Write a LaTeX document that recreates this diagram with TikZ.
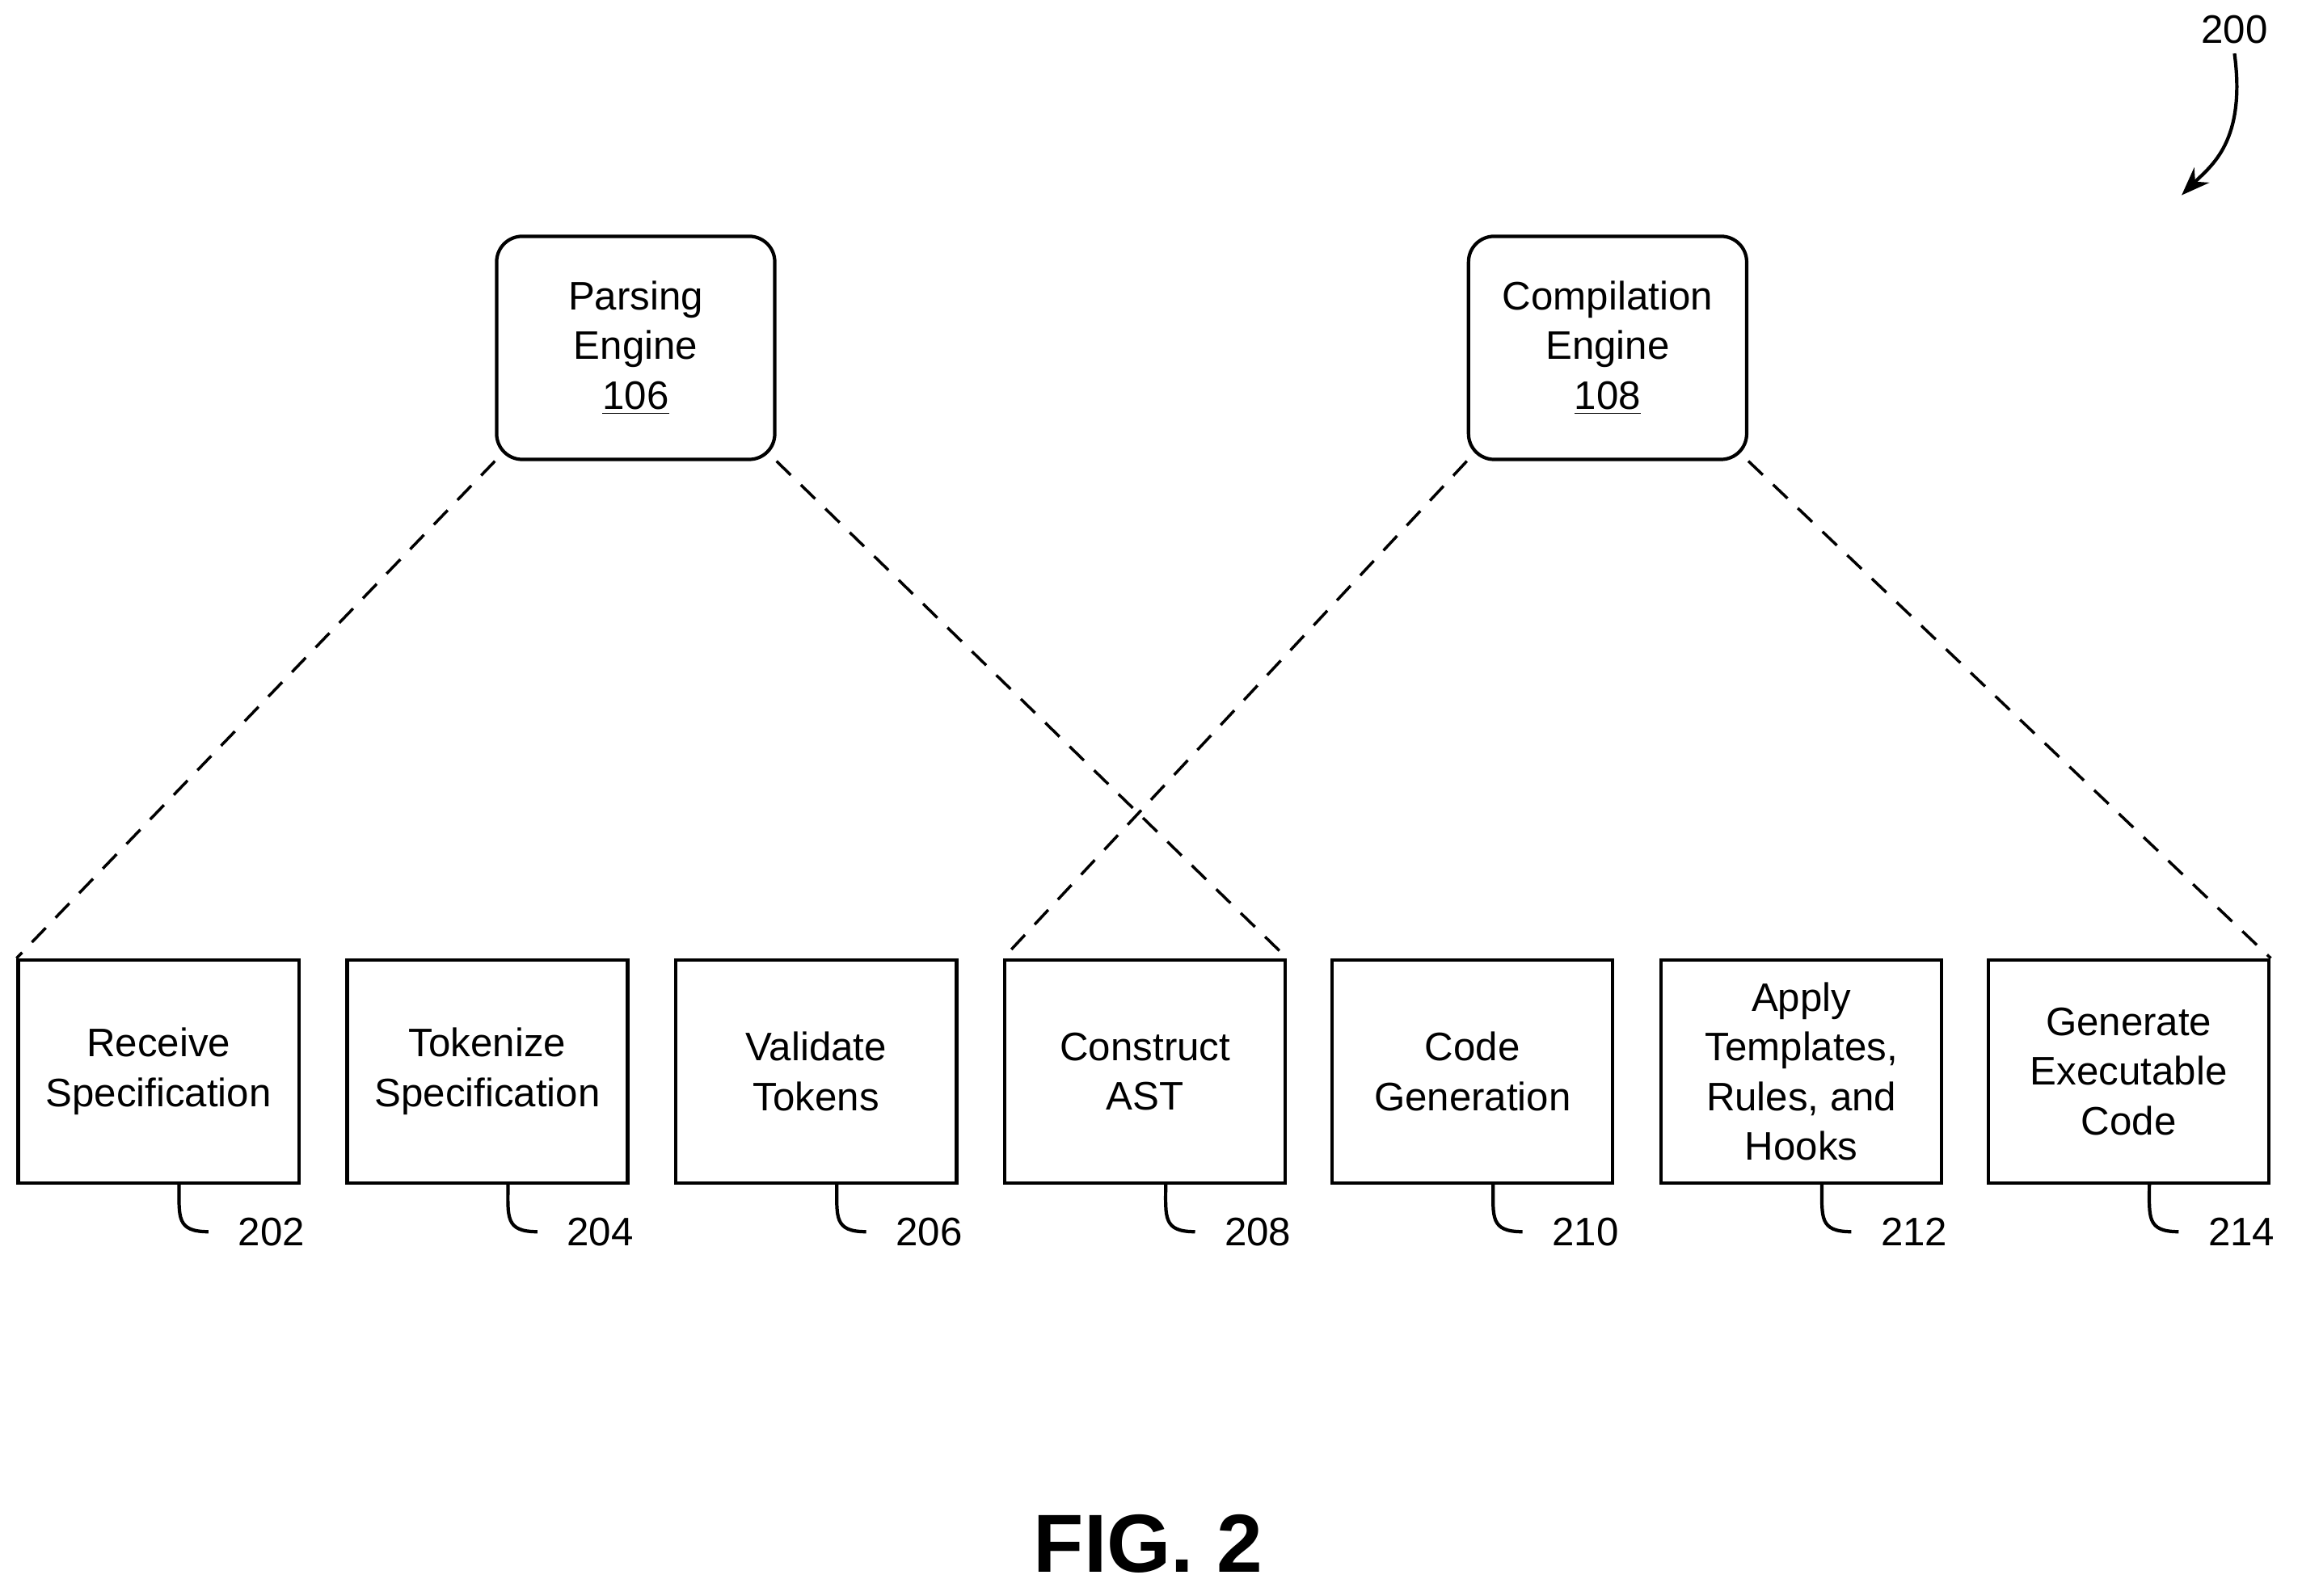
\documentclass[tikz,border=0pt]{standalone}
\usepackage{fontspec}
\setmainfont{Liberation Sans}
\usetikzlibrary{arrows.meta,calc}

\tikzset{
  engine/.style={draw, line width=1.2pt, rounded corners=9pt, minimum width=3.44cm, minimum height=2.76cm, align=center, font=\fontsize{14}{17.5}\selectfont},
  stepbox/.style={draw, line width=1.2pt, minimum width=3.47cm, minimum height=2.76cm, align=center, font=\fontsize{14}{17.5}\selectfont},
  link/.style={line width=1pt, dash pattern=on 7pt off 5pt},
  refnum/.style={anchor=west, inner sep=0pt, xshift=0.36cm, font=\fontsize{14}{17}\selectfont}
}

\begin{document}
\begin{tikzpicture}[x=0.01816cm, y=-0.01816cm]
\useasboundingbox (0,0) rectangle (1568,1087);
% engines
\node[engine] (parse) at (433,237) {Parsing\\Engine\\\underline{106}};
\node[engine] (comp) at (1095,237) {Compilation\\Engine\\\underline{108}};
% steps
\foreach \x/\name/\txt/\num in {108/recv/{Receive\\Specification}/202, 332/tok/{Tokenize\\Specification}/204, 556/val/{Validate\\Tokens}/206, 780/ast/{Construct\\AST}/208, 1003/gen/{Code\\Generation}/210, 1227/tmpl/{Apply\\Templates,\\Rules, and\\Hooks}/212, 1450/exec/{Generate\\Executable\\Code}/214}{
  \node[stepbox] (\name) at (\x,730) {\txt};
  \coordinate (\name-s) at ($(\name.south)+(14,0)$);
  \coordinate (\name-e) at ($(\name.south)+(34,32)$);
  \draw[line width=1.2pt] (\name-s) .. controls +(0,22) and +(-22,0) .. (\name-e);
  \node[refnum] at (\name-e) {\num};
}
% dashed links
\draw[link] (parse.south west) -- (recv.north west);
\draw[link] (parse.south east) -- (ast.north east);
\draw[link] (comp.south west) -- (ast.north west);
\draw[link] (comp.south east) -- (exec.north east);
% figure number
\node[font=\fontsize{14}{17}\selectfont] (fig) at (1522,20) {200};
\coordinate (figtip) at (1486,133);
\draw[line width=1.2pt, -{Stealth[length=10pt]}] (fig.south) .. controls +(8,60) and +(20,-20) .. (figtip);
\node[font=\bfseries\fontsize{29}{34}\selectfont] (title) at (782,1052) {FIG. 2};
\end{tikzpicture}
\end{document}
